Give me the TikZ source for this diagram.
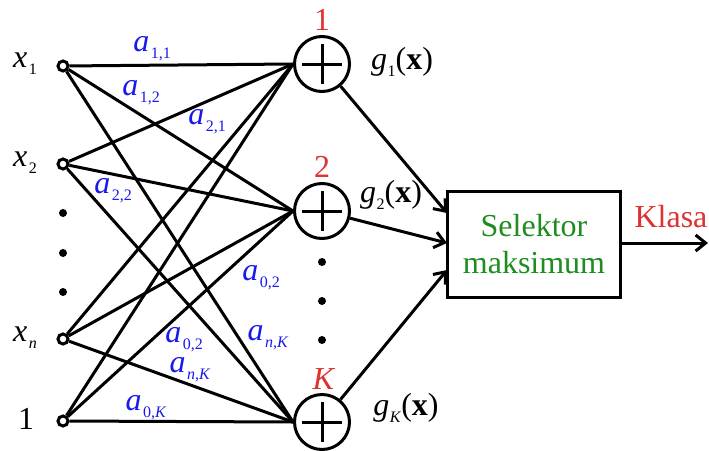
\documentclass[tikz,border=0pt]{standalone}
\usepackage{fontspec}
\setmainfont{Liberation Serif}
\usetikzlibrary{arrows.meta,calc}
\definecolor{wblue}{RGB}{25,25,235}
\definecolor{lred}{RGB}{220,50,50}
\definecolor{lgreen}{RGB}{30,140,30}
\newcommand{\wsub}[2]{#1\kern1.5pt\raisebox{-0.22em}{\fontsize{16}{16}\selectfont #2}}
\newcommand{\gfun}[1]{\textit{g}\kern0.5pt\raisebox{-0.2em}{\fontsize{16}{16}\selectfont #1}(\textbf{x})}
\begin{document}
\begin{tikzpicture}[x=1pt,y=-1pt,
  txt/.style={font=\fontsize{32}{37}\selectfont, inner sep=0pt},
  wlbl/.style={txt, text=wblue},
  inp/.style={circle, draw, line width=3pt, minimum size=10pt, inner sep=0pt},
  sumnode/.style={circle, draw, line width=3pt, minimum size=55pt, inner sep=0pt,
    path picture={\draw[line width=3pt] ($(path picture bounding box.center)+(-20,0)$) -- ($(path picture bounding box.center)+(20,0)$)
      ($(path picture bounding box.center)+(0,-20)$) -- ($(path picture bounding box.center)+(0,20)$);}},
  conn/.style={line width=3pt},
  arr/.style={line width=3pt, -{Straight Barb[length=10pt,width=16pt,line width=3pt]}},
  dot/.style={circle, fill, minimum size=8pt, inner sep=0pt}
]
\useasboundingbox (0,0) rectangle (709,450);
% inputs
\node[inp] (in1) at (63,66) {};
\node[inp] (in2) at (63,164) {};
\node[inp] (inn) at (63,339) {};
\node[inp] (in0) at (63,421) {};
\node[txt] (lx1) at (25,64) {\wsub{\textit{x}}{1}};
\node[txt] (lx2) at (25,163) {\wsub{\textit{x}}{2}};
\node[txt] (lxn) at (25,338) {\wsub{\textit{x}}{\textit{n}}};
\node[txt] (l1) at (26,419) {1};
\node[dot] (d1) at (63,213) {};
\node[dot] (d2) at (63,253) {};
\node[dot] (d3) at (63,292) {};
% sum nodes
\node[sumnode] (s1) at (322,64) {};
\node[sumnode] (s2) at (322,211) {};
\node[sumnode] (sK) at (322,422) {};
\node[txt, text=lred] (n1) at (322,20) {1};
\node[txt, text=lred] (n2) at (322,167) {2};
\node[txt, text=lred] (nK) at (324,379) {\textit{K}};
\node[dot] (e1d) at (322,262) {};
\node[dot] (e2d) at (322,301) {};
\node[dot] (e3d) at (322,340) {};
% connectors
\foreach \i in {in1,in2,inn,in0}{
  \foreach \s in {s1,s2,sK}{
    \draw[conn] (\i) -- (\s.west);
  }
}
% weight labels
\node[wlbl] (w11) at (152,49) {\wsub{\textit{a}}{1,1}};
\node[wlbl] (w12) at (141,93) {\wsub{\textit{a}}{1,2}};
\node[wlbl] (w21) at (207,122) {\wsub{\textit{a}}{2,1}};
\node[wlbl] (w22) at (113,191) {\wsub{\textit{a}}{2,2}};
\node[wlbl] (w02a) at (261,278) {\wsub{\textit{a}}{0,2}};
\node[wlbl] (wnKa) at (268,338) {\wsub{\textit{a}}{\textit{n},\textit{K}}};
\node[wlbl] (w02b) at (184,340) {\wsub{\textit{a}}{0,2}};
\node[wlbl] (wnKb) at (190,370) {\wsub{\textit{a}}{\textit{n},\textit{K}}};
\node[wlbl] (w0K) at (146,408) {\wsub{\textit{a}}{0,\textit{K}}};
% box
\node[draw, line width=3pt, minimum width=173pt, minimum height=106pt, align=center,
  txt, text=lgreen] (box) at (534,244) {Selektor\\maksimum};
\coordinate (t1) at (447,213);
\coordinate (t2) at (447,243);
\coordinate (tK) at (447,270);
\draw[arr] (s1) -- (t1);
\draw[arr] (s2) -- (t2);
\draw[arr] (sK) -- (tK);
\node[txt] (g1) at (402,62) {\gfun{1}};
\node[txt] (g2) at (391,195) {\gfun{2}};
\node[txt] (gK) at (406,408) {\gfun{\textit{K}}};
\coordinate (out) at (708,243);
\draw[arr] (box.east |- t2) -- (out);
\node[txt, text=lred] (kl) at (671,217) {Klasa};
\end{tikzpicture}
\end{document}
